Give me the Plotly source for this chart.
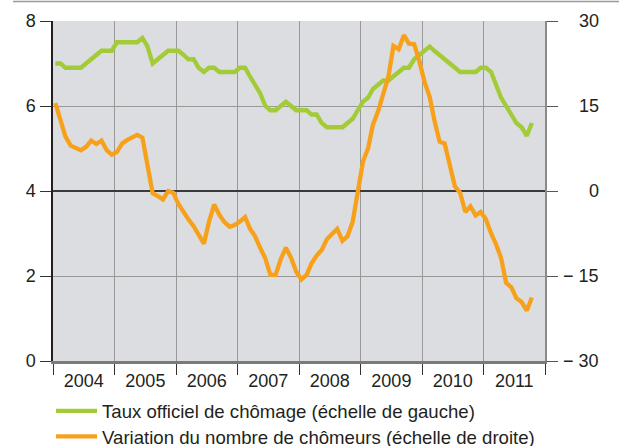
import pandas as pd
import plotly.graph_objects as go

# Monthly data, January 2004 - October 2011
start_month = "2004-01-01"
taux_chomage = [
    7.0, 7.0, 6.9, 6.9, 6.9, 6.9, 7.0, 7.1, 7.2, 7.3, 7.3, 7.3,   # 2004
    7.5, 7.5, 7.5, 7.5, 7.5, 7.6, 7.4, 7.0, 7.1, 7.2, 7.3, 7.3,   # 2005
    7.3, 7.2, 7.1, 7.1, 6.9, 6.8, 6.9, 6.9, 6.8, 6.8, 6.8, 6.8,   # 2006
    6.9, 6.9, 6.7, 6.5, 6.3, 6.0, 5.9, 5.9, 6.0, 6.1, 6.0, 5.9,   # 2007
    5.9, 5.9, 5.8, 5.8, 5.6, 5.5, 5.5, 5.5, 5.5, 5.6, 5.7, 5.9,   # 2008
    6.1, 6.2, 6.4, 6.5, 6.6, 6.6, 6.7, 6.8, 6.9, 6.9, 7.1, 7.2,   # 2009
    7.3, 7.4, 7.3, 7.2, 7.1, 7.0, 6.9, 6.8, 6.8, 6.8, 6.8, 6.9,   # 2010
    6.9, 6.8, 6.5, 6.2, 6.0, 5.8, 5.6, 5.5, 5.3, 5.6,             # 2011
]
variation_chomeurs = [
    15.5, 12.3, 9.6, 8.0, 7.5, 7.2, 7.8, 8.9, 8.3, 8.9, 7.2, 6.4,
    6.9, 8.4, 9.0, 9.4, 9.9, 9.4, 4.9, -0.4, -0.9, -1.5, 0.0, -0.3,
    -2.3, -3.9, -5.0, -6.2, -7.6, -9.3, -5.5, -2.4, -4.2, -5.5, -6.3, -6.0,
    -5.4, -4.6, -6.6, -8.0, -10.0, -11.9, -14.8, -14.8, -12.0, -10.0, -11.8, -14.2,
    -15.6, -14.8, -12.8, -11.4, -10.4, -8.5, -7.6, -6.7, -8.8, -8.0, -5.4, -0.5,
    5.2, 7.6, 11.7, 14.1, 17.3, 20.2, 25.6, 25.0, 27.5, 26.0, 25.9, 23.0,
    19.3, 16.6, 12.5, 8.7, 8.4, 4.3, 0.8, -0.3, -3.7, -2.7, -4.3, -3.7,
    -5.0, -7.5, -9.3, -11.8, -16.2, -17.0, -18.9, -19.6, -21.1, -18.8,
]
left_ticks = [0, 2, 4, 6, 8]
right_ticks = [30, 15, 0, -15, -30]
right_tick_labels = ["30", "15", "0", "\u2212 15", "\u2212 30"]
series_names = [
    "Taux officiel de chômage (échelle de gauche)",
    "Variation du nombre de chômeurs (échelle de droite)",
]

months = pd.date_range(start_month, periods=len(taux_chomage), freq="MS") + pd.Timedelta(days=14)

GREEN = "#a3cb38"
ORANGE = "#f7a11a"
TEXT = "#231f20"
FONT = "Liberation Sans, Arial, sans-serif"

fig = go.Figure()
fig.add_trace(go.Scatter(x=months, y=taux_chomage, mode="lines", name=series_names[0],
                         line=dict(color=GREEN, width=4.3), yaxis="y", legend="legend"))
fig.add_trace(go.Scatter(x=months, y=variation_chomeurs, mode="lines", name=series_names[1],
                         line=dict(color=ORANGE, width=4.3), yaxis="y2", legend="legend2"))

W, H = 619, 446
L, R, T, B = 53, 74, 21, 85
pw = W - L - R
ph = H - T - B

legend_style = dict(orientation="v", x=-0.004, xanchor="left", yanchor="top",
                    font=dict(size=18.6, color=TEXT), itemwidth=41,
                    bgcolor="rgba(0,0,0,0)")

fig.update_layout(
    width=W, height=H,
    margin=dict(l=L, r=R, t=T, b=B, pad=0, autoexpand=False),
    paper_bgcolor="white",
    plot_bgcolor="#dcdde0",
    font=dict(family=FONT, size=18, color=TEXT),
    showlegend=True,
    legend=dict(legend_style, y=-0.092),
    legend2=dict(legend_style, y=-0.092 - 25.5 / ph),
    xaxis=dict(type="date", range=["2004-01-01", "2012-01-01"],
               tick0="2004-01-01", dtick="M12", tickformat="%Y", ticklabelmode="period",
               ticks="outside", ticklen=11, tickwidth=1, tickcolor="#333",
               showgrid=True, gridcolor="#999", gridwidth=1,
               showline=True, linecolor="#7a7a7a", linewidth=2.5,
               tickfont=dict(size=18, color=TEXT), zeroline=False,
               ticklabelstandoff=-9),
    yaxis=dict(range=[0, 8], tickvals=left_ticks, ticks="outside", ticklen=11,
               tickcolor="#333", tickwidth=1,
               showgrid=True, gridcolor="#999", gridwidth=1,
               showline=True, linecolor=TEXT, linewidth=1.5, zeroline=False,
               tickfont=dict(size=18, color=TEXT), ticklabelstandoff=1),
    yaxis2=dict(range=[-30, 30], tickvals=right_ticks, overlaying="y", side="right",
                ticks="outside", ticklen=11, tickcolor="#555", tickwidth=1,
                showticklabels=False, showgrid=False,
                zeroline=True, zerolinecolor="#3a3a3a", zerolinewidth=1.5,
                showline=True, linecolor="#8a8a8a", linewidth=1.5),
)

for v, t in zip(right_ticks, right_tick_labels):
    fig.add_annotation(x=(601 - L) / pw, xref="paper", y=v, yref="y2", text=t,
                       showarrow=False, xanchor="right", yanchor="middle",
                       font=dict(size=18, color=TEXT))

fig.add_shape(type="line", xref="paper", yref="paper",
              x0=(13 - L) / pw, x1=(W - L) / pw, y0=(H - B - 1.5) / ph, y1=(H - B - 1.5) / ph,
              line=dict(color="#9a9a9a", width=1.5))

fig.write_html("out.html", config={"displayModeBar": False},
               post_script="document.body.style.margin='0';document.body.style.padding='0';")
